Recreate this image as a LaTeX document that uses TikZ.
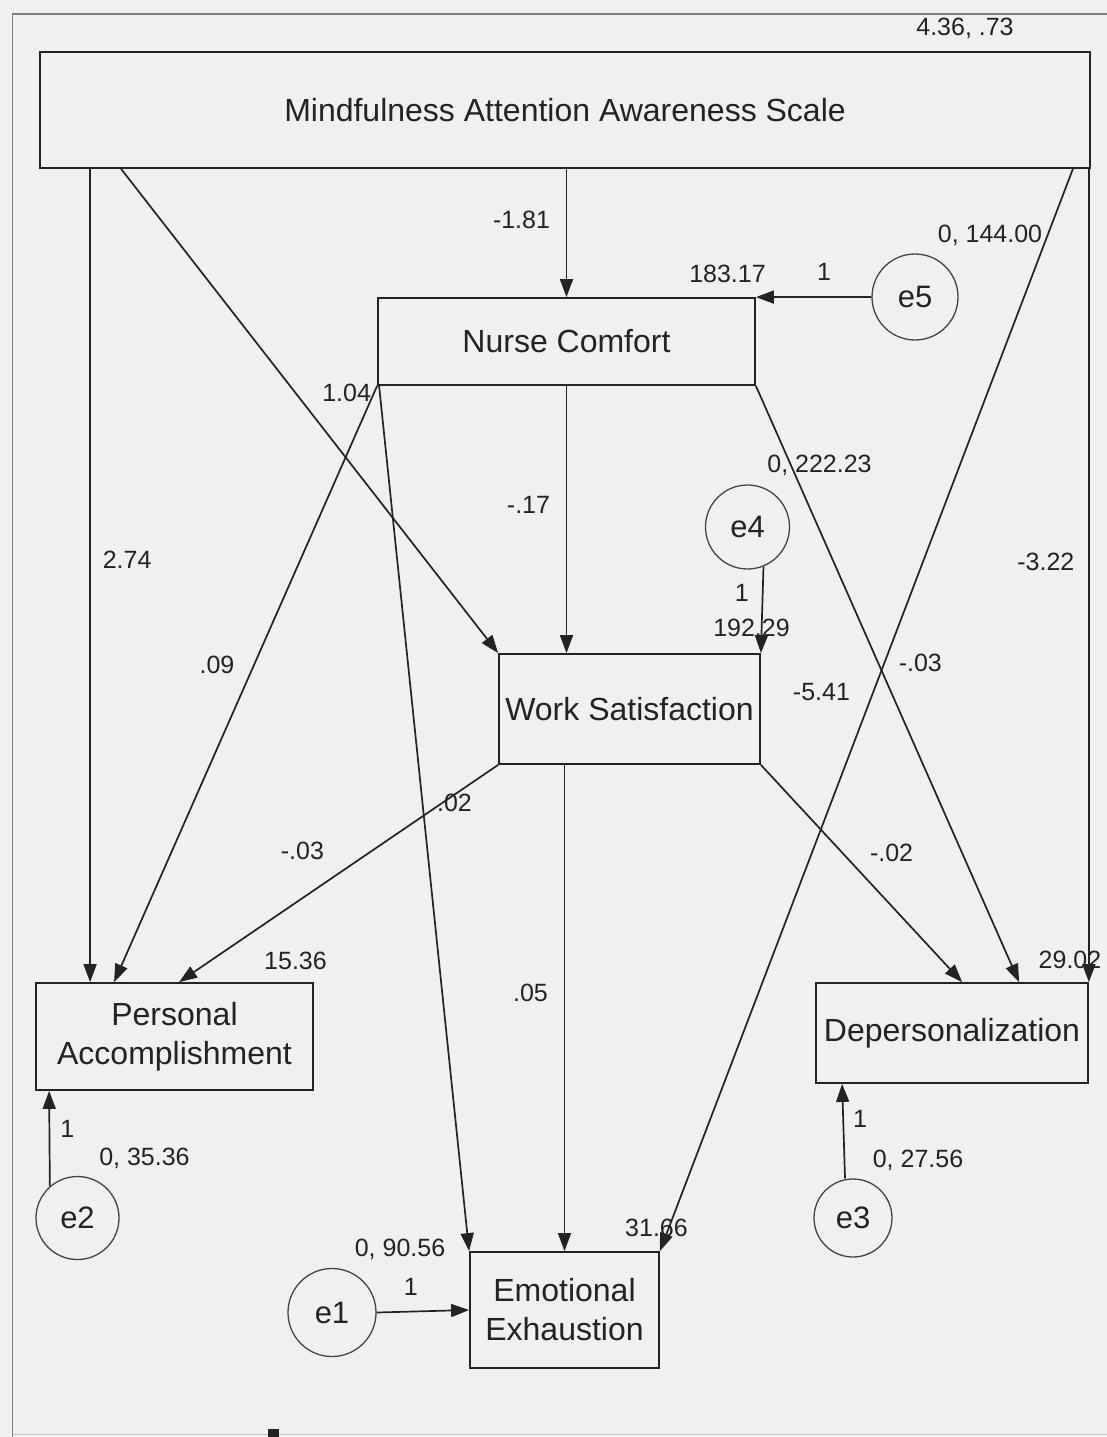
\documentclass[tikz,border=0pt]{standalone}
\usepackage{fontspec}
\setmainfont{Liberation Sans}
\usepackage{xcolor}
\usetikzlibrary{arrows.meta, positioning}
\definecolor{panel}{HTML}{F0F0F0}
\definecolor{ink}{HTML}{232323}
\tikzset{
    x=1pt, y=-1pt, % one unit per pixel of the screenshot, y going down
    >={Triangle[length=18pt,width=13pt]}, % filled AMOS style heads
    observed/.style={draw=ink, line width=1.8pt, rectangle, align=center, text=ink,
        inner sep=0pt, font=\fontsize{32}{39}\selectfont}, % measured variables
    error/.style={draw=ink!85, line width=1.3pt, circle, inner sep=0pt, text=ink,
        font=\fontsize{31}{36}\selectfont}, % residual terms
    est/.style={text=ink, inner sep=0pt, font=\fontsize{25}{30}\selectfont}, % estimates
}
\tikzstyle{effect} = [draw=ink, line width=1.7pt, ->]

\begin{document}
\begin{tikzpicture}
    \fill[panel] (0,0) rectangle (1107,1437);
    \useasboundingbox (0,0) rectangle (1107,1437);
    \draw[gray, line width=1.6pt] (12.5,1437) -- (12.5,14) -- (1107,14);
    \draw[gray!45, line width=1.5pt] (12.5,1434.5) -- (1107,1434.5);
    \fill[ink] (268,1429) rectangle (279,1437);

    % variables
    \node[observed, minimum width=1050pt, minimum height=116pt,
        label={[est, xshift=400pt, yshift=82pt]center:{4.36, .73}}] (maas) at (565,110) {Mindfulness Attention Awareness Scale};
    \node[observed, minimum width=377pt, minimum height=87pt,
        label={[est, xshift=161pt, yshift=68pt]center:{183.17}}] (nc) at (566.5,341.5) {Nurse Comfort};
    \node[observed, minimum width=261pt, minimum height=110pt,
        label={[est, xshift=122pt, yshift=81pt]center:{192.29}}] (ws) at (629.5,709) {Work Satisfaction};
    \node[observed, minimum width=277pt, minimum height=107pt,
        label={[est, xshift=121pt, yshift=76pt]center:{15.36}}] (pa) at (174.5,1036.5) {Personal\\Accomplishment};
    \node[observed, minimum width=272pt, minimum height=100pt,
        label={[est, xshift=118pt, yshift=73pt]center:{29.02}}] (dp) at (952,1033) {Depersonalization};
    \node[observed, minimum width=189pt, minimum height=116pt,
        label={[est, xshift=92pt, yshift=82pt]center:{31.66}}] (ee) at (564.5,1310) {Emotional\\Exhaustion};

    % residuals
    \node[error, minimum size=86pt, label={[est, xshift=75pt, yshift=62pt]center:{0, 144.00}}] (e5) at (915,297) {e5};
    \node[error, minimum size=84pt, label={[est, xshift=72pt, yshift=62pt]center:{0, 222.23}}] (e4) at (747.5,527) {e4};
    \node[error, minimum size=83pt, label={[est, xshift=67pt, yshift=60pt]center:{0, 35.36}}] (e2) at (77.5,1218) {e2};
    \node[error, minimum size=88pt, label={[est, xshift=68pt, yshift=63pt]center:{0, 90.56}}] (e1) at (332,1312.5) {e1};
    \node[error, minimum size=78pt, label={[est, xshift=65pt, yshift=58pt]center:{0, 27.56}}] (e3) at (853,1218) {e3};

    \path[every edge/.style=effect]
        ([xshift=51pt]maas.south west) edge node[est, pos=.481, xshift=37pt] {2.74} ([xshift=55pt]pa.north west)
        ([xshift=82pt]maas.south west) edge node[est, pos=.463, xshift=51pt] {1.04} (ws.north west)
        (maas.south -| nc.north) edge node[est, pos=.4, xshift=-45pt] {-1.81} (nc.north)
        ([xshift=-18pt]maas.south east) edge node[est, pos=.483, xshift=-52pt] {-5.41} (ee.north east)
        ([xshift=-2pt]maas.south east) edge node[est, pos=.483, xshift=-43pt] {-3.22} (dp.north east)
        (nc.south west) edge node[est, pos=.468, xshift=-37pt] {.09} ([xshift=79pt]pa.north west)
        ([xshift=2pt]nc.south west) edge node[est, pos=.482, xshift=32pt] {.02} (ee.north west)
        (nc.south) edge node[est, pos=.446, xshift=-38pt] {-.17} (nc.south |- ws.north)
        (nc.south east) edge node[est, pos=.465, xshift=42pt] {-.03} ([xshift=204pt]dp.north west)
        (ws.south west) edge node[est, pos=.397, xshift=-69pt] {-.03} ([xshift=144pt]pa.north west)
        (ws.south -| ee.north) edge node[est, pos=.469, xshift=-34pt] {.05} (ee.north)
        (ws.south east) edge node[est, pos=.406, xshift=49pt] {-.02} ([xshift=147pt]dp.north west)
        (e5.west) edge node[est, pos=.41, yshift=25pt] {1} (nc.north east)
        (e4.-68) edge node[est, pos=.3, xshift=-21pt] {1} (ws.north east)
        (e2.131) edge node[est, pos=.6, xshift=18pt] {1} ([xshift=14pt]pa.south west)
        (e1.east) edge node[est, pos=.37, yshift=25pt] {1} (ee.west)
        ([xshift=-8pt]e3.north) edge node[est, pos=.63, xshift=17pt] {1} ([xshift=27pt]dp.south west);
\end{tikzpicture}
\end{document}
